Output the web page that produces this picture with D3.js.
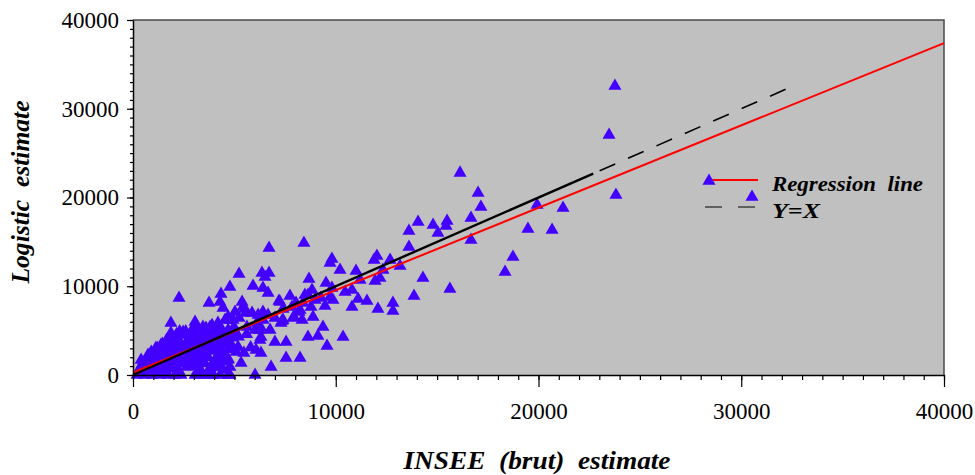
<!DOCTYPE html>
<html><head><meta charset="utf-8">
<script src="https://cdn.jsdelivr.net/npm/d3@7"></script>
<style>body{margin:0;background:#fff}svg{display:block}</style>
</head><body>
<svg id="chart" width="975" height="475"></svg>
<script>
// INSEE (brut) estimate (x) and logistic estimate (y), one entry per commune
const inseeX = [
  23770,23480,23820,21210,19930,19480,20670,18740,18350,16130,
  17020,17160,16670,16670,15490,15440,15040,14800,14060,13610,
  13610,12680,13170,12330,12180,14300,13860,15630,12820,12820,
  12030,11890,
  11000,11200,11940,11100,11540,10800,12080,10210,9810,9720,
  9520,8680,8430,6710,10460,10800,9720,9860,9470,8830,
  8480,8980,7740,7840,7200,7350,8190,8780,8880,8340,
  9370,9120,8630,7550,8240,7550,6810,6020,10360,9570,
  6360,6710,6510,5920,6410,6660,5230,4780,5380,6410,
  6260,5030,5520,5230,4780,6660,6410,7000,6120,5620,
  4980,7940,8240,7400,6210,6760,5030,8040,7400,2270,
  4340,3750,4290,4440,5430,4690,4540,4930,5570,5870,
  6170,7250,8380,8630,9270,9810,3060,1870,2470,3450,
  3800,4190,1870,2070,1380,1130,400,740,990,490,
  1730,2610,2960,3550,4190,4690,4440,3550,3210,3850,
  4190,4780,4690,5330,5470,5080,5180,6020,6310,6310,
  6260,6070,6310,7000,7300,7890,4780,
  200,590,940,1330,1730,2070,2370,3060,3300,3700,3950,4290,4690,
  300,450,600,700,800,900,1000,1050,1100,1200,
  1250,1300,1400,1450,1500,1550,1600,1650,1700,1750,
  1800,1850,1900,1950,2000,2050,2100,2150,2200,2250,
  2300,2350,2400,2450,2500,2550,2600,2650,2700,2750,
  2800,2850,2900,2950,3000,3050,3100,3150,3200,3250,
  3300,3350,3400,3450,3500,3550,3600,3650,3700,3750,
  3800,3850,3900,3950,4000,4050,4100,4150,4200,4250,
  4300,4350,4400,4450,4500,4600,4700,4800,4900,5000,
  350,550,650,850,950,1150,1350,1600,1800,2000,
  2200,2400,2600,2800,3000,3200,3400,3600,3800,4000,
  4200,4400,4600,1250,1700,2150,2600,3050,3500,3950,
  4350,4850,5200,5600,5800,1500,2300,3100,3900,4700
];
const logisticY = [
  32570,27050,20290,18820,19160,16450,16340,13300,11610,22770,
  20510,18930,17690,15210,17360,16790,16000,16900,17240,16230,
  14430,12960,12280,11830,10930,10930,8900,9690,8110,7210,
  13410,12960,
  11720,10710,10590,8570,8340,7660,7440,11830,13070,12620,
  10370,10820,14880,14310,9350,9580,8790,8450,7780,9580,
  9020,8450,8900,7660,8340,6090,7100,7660,6540,6200,
  5410,4400,4280,3720,1920,1920,900,0,4280,3270,
  11490,11490,11040,10030,9800,9240,11380,9920,8230,7100,
  6420,7100,7440,6420,6200,6760,6200,6420,5860,5410,
  5410,6540,7330,6200,5070,5070,4850,8110,7440,8680,
  9130,8110,8230,7550,7660,6540,6200,6200,6990,6990,
  6760,8230,8110,9020,8680,9800,5970,5860,4850,5410,
  5410,5860,4730,3940,3380,3040,1690,2250,1350,790,
  2590,3160,3720,4280,4850,5070,3720,2480,1470,900,
  900,900,1690,1350,2480,2590,3160,5070,5300,4280,
  3940,2820,2480,3720,5860,6420,0,
  0,0,0,0,0,0,0,0,0,0,0,0,0,
  400,1200,300,1800,900,2600,500,1500,2200,3000,
  800,1900,2700,3500,1200,400,2300,3900,1600,2900,
  700,4300,2000,3300,1100,2600,4000,1700,3000,500,
  2300,3600,1300,4500,2800,1900,3400,900,2400,4100,
  1500,3100,2000,5200,2600,1000,3600,4400,2200,600,
  3000,1700,4800,2500,3800,1300,5300,3200,2000,4400,
  800,3500,5600,2700,1500,4100,3000,2100,4700,1200,
  3400,5200,2500,600,3900,4500,2900,3600,4200,5000,
  800,600,1400,300,1900,1000,2400,800,3600,3700,
  200,2700,1300,4300,4700,3600,300,2400,3000,4900,
  2800,4000,1500,1500,3300,4600,4900,2000,5100,4100,
  1900,3000,4300,4600,3100,2700,4900,5500,200,1800
];
const axisTicks = [0, 10000, 20000, 30000, 40000];
const axisDomain = [0, 40000];
const regressionCoef = [280, 0.928];      // intercept, slope
const regressionRange = [0, 40000];
const identityRange = [0, 32400];         // Y = X line extent
const identitySolidTo = 22700;
const legendLabels = ["Regression  line", "Y=X"];
const xTitle = "INSEE  (brut)  estimate";
const yTitle = "Logistic  estimate";

const svg = d3.select("#chart");
const L = 133, R = 944, T = 20, B = 375;
const x = d3.scaleLinear().domain(axisDomain).range([L, R]);
const y = d3.scaleLinear().domain(axisDomain).range([B, T]);
const serif = "'Liberation Serif', 'Times New Roman', serif";
const markColor = "#4300ff";

svg.append("rect").attr("x", L).attr("y", T).attr("width", R - L).attr("height", B - T).attr("fill", "#c0c0c0");
svg.append("path").attr("d", `M${L},${T}H${R}V${B}`).attr("fill", "none").attr("stroke", "#4a4a4a").attr("stroke-width", 1.5);

const tri = d3.symbol().type(d3.symbolTriangle).size(74);
svg.append("g").selectAll("path").data(d3.range(inseeX.length)).join("path")
  .attr("transform", i => `translate(${x(inseeX[i])},${y(logisticY[i])})`)
  .attr("d", tri).attr("fill", markColor);

// regression line
const line = d3.line().x(d => x(d[0])).y(d => y(d[1]));
svg.append("path")
  .attr("d", line(regressionRange.map(v => [v, regressionCoef[0] + regressionCoef[1] * v])))
  .attr("fill", "none").attr("stroke", "#ff0000").attr("stroke-width", 2);

// Y = X line
svg.append("path").attr("d", line([[identityRange[0], identityRange[0]], [identitySolidTo, identitySolidTo]]))
  .attr("fill", "none").attr("stroke", "#000").attr("stroke-width", 2.4);
svg.append("path").attr("d", line([[identitySolidTo, identitySolidTo], [identityRange[1], identityRange[1]]]))
  .attr("fill", "none").attr("stroke", "#000").attr("stroke-width", 1.6)
  .attr("stroke-dasharray", "17,14").attr("stroke-dashoffset", 24);

// axes
const minor = d3.range(axisDomain[0], axisDomain[1] + 1, 1000);
function styleAxis(g) {
  g.select(".domain").attr("stroke", "#000").attr("stroke-width", 1.5);
  g.selectAll(".tick line").attr("stroke", "#000").attr("stroke-width", 1.2);
  g.selectAll("text").attr("font-family", serif).attr("font-size", 23).attr("fill", "#000");
}
svg.append("g").attr("transform", `translate(0,${B})`)
  .call(d3.axisBottom(x).tickValues(minor).tickSize(5).tickFormat("").tickSizeOuter(0)).call(styleAxis);
svg.append("g").attr("transform", `translate(0,${B})`)
  .call(d3.axisBottom(x).tickValues(axisTicks).tickSize(12).tickPadding(16).tickFormat(d3.format("d")).tickSizeOuter(0))
  .call(styleAxis).call(g => g.select(".domain").remove());
svg.append("g").attr("transform", `translate(${L},0)`)
  .call(d3.axisLeft(y).tickValues(minor).tickSize(3).tickFormat("").tickSizeOuter(0)).call(styleAxis);
svg.append("g").attr("transform", `translate(${L},0)`)
  .call(d3.axisLeft(y).tickValues(axisTicks).tickSize(6).tickPadding(8).tickFormat(d3.format("d")).tickSizeOuter(0))
  .call(styleAxis).call(g => g.select(".domain").remove());

// titles
svg.append("text").attr("x", 537).attr("y", 469).attr("text-anchor", "middle")
  .attr("font-family", serif).attr("font-style", "italic").attr("font-weight", "bold").attr("font-size", 25)
  .attr("textLength", 267).attr("lengthAdjust", "spacingAndGlyphs")
  .style("white-space", "pre").text(xTitle);
svg.append("text").attr("transform", "translate(29,192) rotate(-90)").attr("text-anchor", "middle")
  .attr("font-family", serif).attr("font-style", "italic").attr("font-weight", "bold").attr("font-size", 25)
  .attr("textLength", 183).attr("lengthAdjust", "spacingAndGlyphs")
  .style("white-space", "pre").text(yTitle);

// legend
const lg = svg.append("g");
lg.append("line").attr("x1", 709).attr("x2", 758).attr("y1", 180).attr("y2", 180).attr("stroke", "#ff0000").attr("stroke-width", 2);
lg.append("path").attr("transform", "translate(709,181)").attr("d", tri).attr("fill", markColor);
lg.append("line").attr("x1", 705).attr("x2", 755).attr("y1", 207).attr("y2", 207).attr("stroke", "#000").attr("stroke-width", 1.2).attr("stroke-dasharray", "17,16");
lg.append("path").attr("transform", "translate(752,197)").attr("d", tri).attr("fill", markColor);
lg.append("text").attr("x", 772).attr("y", 191).attr("font-family", serif).attr("font-style", "italic").attr("font-weight", "bold")
  .attr("font-size", 21).attr("textLength", 151).attr("lengthAdjust", "spacingAndGlyphs").style("white-space", "pre").text(legendLabels[0]);
lg.append("text").attr("x", 772).attr("y", 218).attr("font-family", serif).attr("font-style", "italic").attr("font-weight", "bold")
  .attr("font-size", 21).attr("textLength", 48).attr("lengthAdjust", "spacingAndGlyphs").text(legendLabels[1]);
</script>
</body></html>
